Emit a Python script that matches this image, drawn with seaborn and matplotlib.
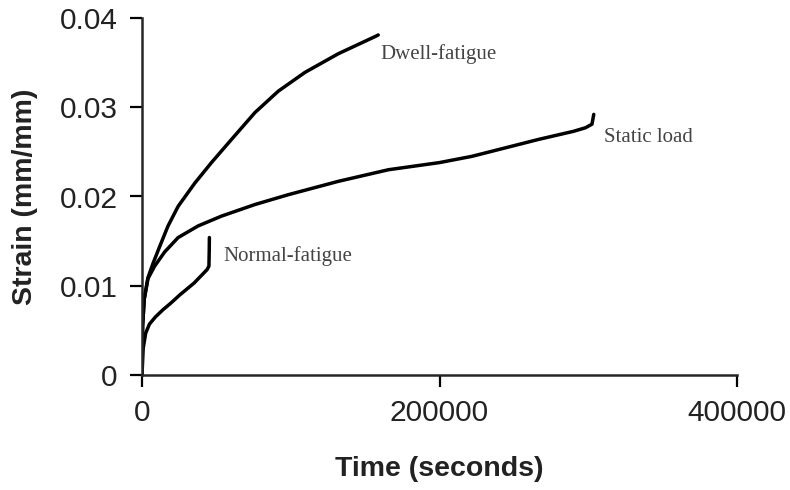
import pandas as pd
import seaborn as sns
import matplotlib.pyplot as plt

# values
dwell_time = [0, 400, 1500, 4000, 7400, 11900, 17500, 24300, 35500, 46700,
              60200, 75900, 91600, 109500, 132000, 150000, 157700, 158800]
dwell_strain = [0, 0.0055, 0.0085, 0.0109, 0.0125, 0.0144, 0.0167, 0.0189,
                0.0215, 0.0238, 0.0264, 0.0294, 0.0318, 0.0339, 0.0360,
                0.0374, 0.0380, 0.0381]

static_time = [0, 400, 1500, 4000, 8500, 15300, 24300, 37700, 53400, 75900,
               98300, 132000, 165700, 200000, 221800, 266700, 290000,
               298100, 302500, 303700]
static_strain = [0, 0.0055, 0.0085, 0.0108, 0.0122, 0.0138, 0.0154, 0.0167,
                 0.0178, 0.0191, 0.0202, 0.0217, 0.0230, 0.0238, 0.0245,
                 0.0264, 0.0273, 0.0277, 0.0281, 0.0292]

normal_time = [0, 800, 2500, 5000, 9000, 14000, 19000, 25600, 35000, 43700,
               45000, 45200, 45300]
normal_strain = [0, 0.0030, 0.0047, 0.0057, 0.0065, 0.0073, 0.0080, 0.0090,
                 0.0103, 0.0118, 0.0122, 0.0140, 0.0154]

x_ticks = [0, 200000, 400000]
y_ticks = [0, 0.01, 0.02, 0.03, 0.04]
y_tick_labels = ['0', '0.01', '0.02', '0.03', '0.04']

series = [('Dwell-fatigue', dwell_time, dwell_strain),
          ('Static load', static_time, static_strain),
          ('Normal-fatigue', normal_time, normal_strain)]

frames = []
for name, t, s in series:
    frames.append(pd.DataFrame({'Time': t, 'Strain': s, 'Test': name}))
df = pd.concat(frames, ignore_index=True)

sns.set_style('ticks')
plt.rcParams['font.family'] = ['Liberation Sans', 'DejaVu Sans']

fig = plt.figure(figsize=(7.9, 4.9), dpi=100)
ax = fig.add_axes([142 / 790, 115 / 490, 595 / 790, 357 / 490])

for name, t, s in series:
    sns.lineplot(x='Time', y='Strain', data=df[df['Test'] == name],
                 sort=False, estimator=None, color='black', linewidth=2.5,
                 ax=ax)

ax.set_xlim(0, 400000)
ax.set_ylim(0, 0.04)
ax.set_xticks(x_ticks)
ax.set_xticklabels([str(v) for v in x_ticks])
ax.set_yticks(y_ticks)
ax.set_yticklabels(y_tick_labels)
ax.tick_params(axis='both', labelsize=21.5, length=8.5, width=1.6,
               pad=9, colors='black', labelcolor='#222222')
for side in ['left', 'bottom']:
    ax.spines[side].set_linewidth(1.8)
sns.despine(ax=ax)

ax.set_xlabel('Time (seconds)', fontsize=20.5, fontweight='bold',
              color='#222222')
ax.set_ylabel('Strain (mm/mm)', fontsize=20.5, fontweight='bold',
              color='#222222')
ax.xaxis.set_label_coords(0.5, -0.228)
ax.yaxis.set_label_coords(-0.175, 0.5)

# curve labels
label_pos = {'Dwell-fatigue': (160500, 0.0360),
             'Static load': (310500, 0.0266),
             'Normal-fatigue': (54500, 0.0133)}
for name, (x, y) in label_pos.items():
    ax.text(x, y, name, fontsize=15, va='center', ha='left',
            color='#444444', family=['Liberation Serif', 'DejaVu Serif'])

fig.savefig('out.png', dpi=100)
